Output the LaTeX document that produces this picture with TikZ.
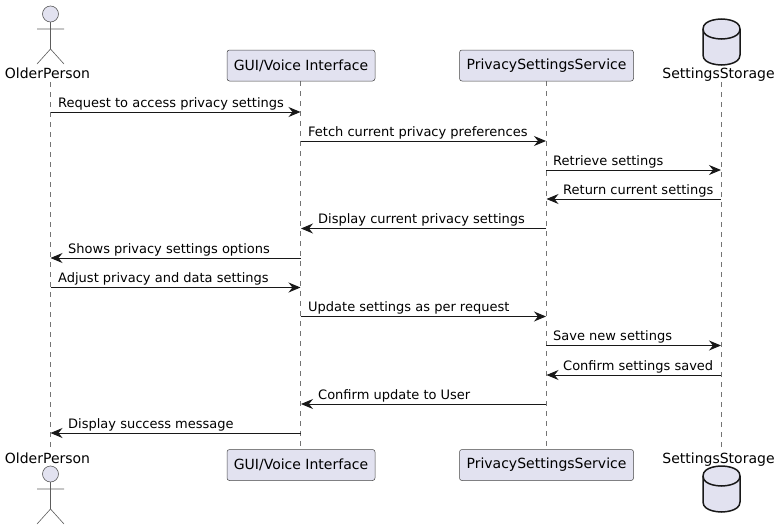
\documentclass[tikz,border=0pt]{standalone}
\usepackage{fontspec}
\setmainfont{DejaVu Sans}
\usetikzlibrary{arrows.meta,calc}
\definecolor{partfill}{HTML}{E2E2F0}
\definecolor{ink}{HTML}{181818}
\tikzset{
  x=1pt,y=-1pt,
  partbox/.style={draw=ink!80,line width=0.5pt,fill=partfill,rounded corners=2.5pt,minimum height=31pt,inner sep=0pt,font=\fontsize{14}{16}\selectfont,text=black},
  plainlabel/.style={inner sep=0pt,anchor=base,font=\fontsize{14}{16}\selectfont,text=black},
  msglabel/.style={inner sep=0pt,anchor=base west,font=\fontsize{13}{15}\selectfont,text=black},
  lifeline/.style={draw=ink!60,line width=0.5pt,dash pattern=on 5pt off 5pt},
  msgarrow/.style={draw=ink,line width=1pt,-{Stealth[length=12pt,width=10pt,inset=4pt,fill=ink]}},
  actorline/.style={draw=ink!70,line width=0.6pt},
  dbshape/.style={draw=ink,line width=1.5pt,fill=partfill},
}
\begin{document}
\begin{tikzpicture}
\useasboundingbox (0,0) rectangle (780,530);
% lifeline ends
\coordinate (la) at (50.5,82);  \coordinate (lae) at (50.5,447);
\coordinate (lb) at (300.5,81); \coordinate (lbe) at (300.5,449);
\coordinate (lc) at (546,81);   \coordinate (lce) at (546,449);
\coordinate (ld) at (721,82);   \coordinate (lde) at (721,447);
\draw[lifeline] (la) -- (lae);
\draw[lifeline] (lb) -- (lbe);
\draw[lifeline] (lc) -- (lce);
\draw[lifeline] (ld) -- (lde);
% participants, top
\node[plainlabel] (t1) at (47.5,78) {OlderPerson};
\node[partbox,minimum width=148pt] (t2) at (301,65.5) {GUI/Voice Interface};
\node[partbox,minimum width=174pt] (t3) at (546.5,65.5) {PrivacySettingsService};
\node[plainlabel] (t4) at (718.5,78) {SettingsStorage};
% participants, bottom
\node[plainlabel] (b1) at (47.5,463) {OlderPerson};
\node[partbox,minimum width=148pt] (b2) at (301,465) {GUI/Voice Interface};
\node[partbox,minimum width=174pt] (b3) at (546.5,465) {PrivacySettingsService};
\node[plainlabel] (b4) at (718.5,463) {SettingsStorage};
% actors
\foreach \yy in {14,474}{
  \draw[actorline,fill=partfill] (50.5,\yy) circle (8);
  \draw[actorline] (50.5,\yy+8) -- (50.5,\yy+35) -- (37,\yy+50) (50.5,\yy+35) -- (64,\yy+50) (37,\yy+15) -- (64,\yy+15);
}
% databases
\foreach \yy in {19,466}{
  \draw[dbshape] (703,\yy+10) .. controls (703,\yy) and (721.5,\yy) .. (721.5,\yy) .. controls (721.5,\yy) and (740,\yy) .. (740,\yy+10)
    -- (740,\yy+36) .. controls (740,\yy+46) and (721.5,\yy+46) .. (721.5,\yy+46) .. controls (721.5,\yy+46) and (703,\yy+46) .. (703,\yy+36) -- cycle;
  \draw[dbshape,fill=none] (703,\yy+10) .. controls (703,\yy+20) and (721.5,\yy+20) .. (721.5,\yy+20) .. controls (721.5,\yy+20) and (740,\yy+20) .. (740,\yy+10);
}
% messages: number/y/from x/to x/label x/text
\foreach \i/\yy/\fx/\tx/\lx/\txt in {
 1/112/50.5/300.5/58/{Request to access privacy settings},
 2/141/300.5/546/308/{Fetch current privacy preferences},
 3/170/546/721/553/{Retrieve settings},
 4/199/721/546.5/563/{Return current settings},
 5/228.5/546/301/318/{Display current privacy settings},
 6/258/300.5/50.5/68/{Shows privacy settings options},
 7/287.5/50.5/300.5/58/{Adjust privacy and data settings},
 8/316.5/300.5/546/308/{Update settings as per request},
 9/345.5/546/721/553/{Save new settings},
 10/375/721/546.5/563/{Confirm settings saved},
 11/404/546/301/318/{Confirm update to User},
 12/433/300.5/50.5/68/{Display success message}}{
  \coordinate (s\i) at (\fx,\yy);
  \coordinate (e\i) at (\tx,\yy);
  \draw[msgarrow] (s\i) -- (e\i);
  \node[msglabel] (m\i) at (\lx,\yy-5) {\txt};
}
\end{tikzpicture}
\end{document}
